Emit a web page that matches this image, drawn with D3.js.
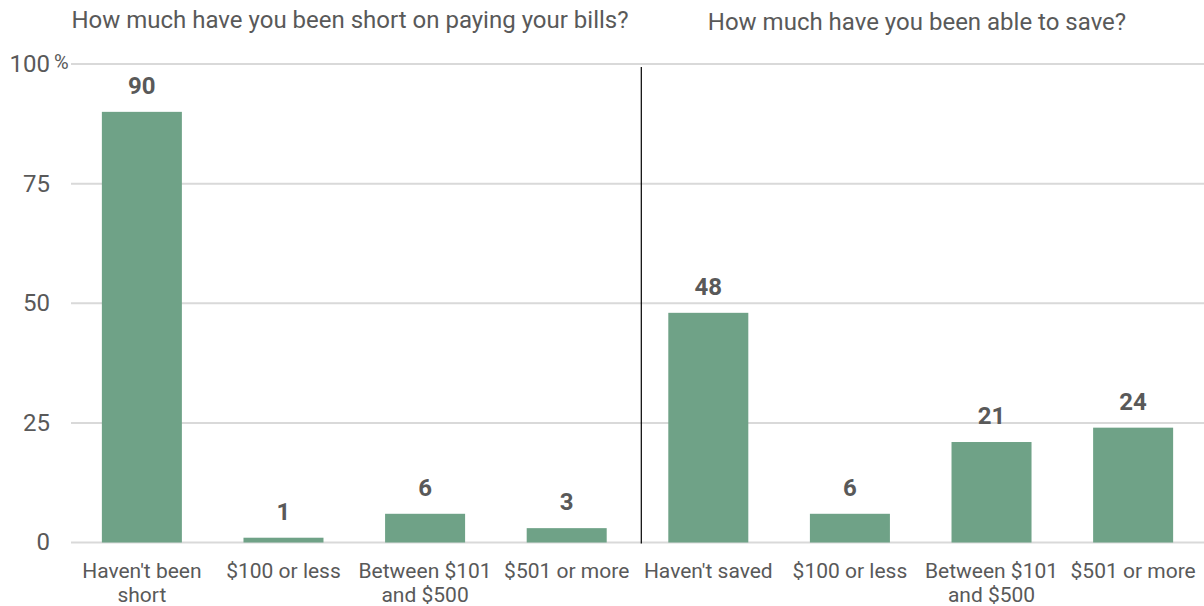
<!DOCTYPE html>
<html>
<head>
<meta charset="utf-8">
<script src="https://cdn.jsdelivr.net/npm/d3@7/dist/d3.min.js"></script>
<style>
  html, body { margin: 0; padding: 0; background: #fff; }
  svg { display: block; font-family: Roboto, "Noto Sans", sans-serif; }
</style>
</head>
<body>
<svg id="chart" width="1204" height="606"></svg>
<script>
// Survey responses, percent of respondents
const categories = [
  "Haven't been short", "$100 or less", "Between $101 and $500", "$501 or more",
  "Haven't saved", "$100 or less ", "Between $101 and $500 ", "$501 or more "
];
const categoryLines = [
  ["Haven't been", "short"], ["$100 or less"], ["Between $101", "and $500"], ["$501 or more"],
  ["Haven't saved"], ["$100 or less"], ["Between $101", "and $500"], ["$501 or more"]
];
const values = [90, 1, 6, 3, 48, 6, 21, 24];
const yTicks = [0, 25, 50, 75, 100];
const groupTitles = ["How much have you been short on paying your bills?", "How much have you been able to save?"];

const svg = d3.select("#chart");
const plotLeft = 71, plotRight = 1204, plotTop = 64, plotBottom = 542.5;

const x = d3.scaleBand().domain(categories).range([plotLeft, plotRight]).paddingInner(0.435).paddingOuter(0.218);
const y = d3.scaleLinear().domain([0, 100]).range([plotBottom, plotTop]);

const textColor = "#595959";

// gridlines
svg.append("g").selectAll("line").data(yTicks).join("line")
  .attr("x1", plotLeft).attr("x2", plotRight)
  .attr("y1", d => y(d)).attr("y2", d => y(d))
  .attr("stroke", "#d9d9d9").attr("stroke-width", 2);

// y tick labels
svg.append("g").selectAll("text").data(yTicks).join("text")
  .attr("x", 50).attr("y", d => y(d))
  .attr("dy", "0.33em")
  .attr("text-anchor", "end")
  .attr("fill", textColor).attr("font-size", 24)
  .text(d => d);
svg.append("text").attr("x", 54).attr("y", y(100) + 5)
  .attr("fill", textColor).attr("font-size", 20).text("%");

// bars
svg.append("g").selectAll("rect").data(values).join("rect")
  .attr("x", (d, i) => x(categories[i]))
  .attr("width", x.bandwidth())
  .attr("y", d => y(d))
  .attr("height", d => y(0) - y(d))
  .attr("fill", "#6fa287");

// value labels
svg.append("g").selectAll("text").data(values).join("text")
  .attr("x", (d, i) => x(categories[i]) + x.bandwidth() / 2)
  .attr("y", d => y(d) - 18)
  .attr("text-anchor", "middle")
  .attr("fill", textColor).attr("font-size", 24).attr("font-weight", "bold")
  .text(d => d);

// category labels
const cat = svg.append("g").selectAll("text").data(categoryLines).join("text")
  .attr("x", (d, i) => x(categories[i]) + x.bandwidth() / 2)
  .attr("y", 577.5)
  .attr("text-anchor", "middle")
  .attr("fill", textColor).attr("font-size", 21);
cat.selectAll("tspan").data(d => d).join("tspan")
  .attr("x", function () { return d3.select(this.parentNode).attr("x"); })
  .attr("dy", (d, i) => i === 0 ? 0 : 24)
  .text(d => d);

// divider between the two questions
const divX = x(categories[4]) - 27;
svg.append("line")
  .attr("x1", divX).attr("x2", divX)
  .attr("y1", 67).attr("y2", plotBottom + 1)
  .attr("stroke", "#000").attr("stroke-width", 1.2);

// group titles
svg.append("text").attr("x", 350).attr("y", 28).attr("text-anchor", "middle")
  .attr("fill", textColor).attr("font-size", 24).text(groupTitles[0]);
svg.append("text").attr("x", 917).attr("y", 30).attr("text-anchor", "middle")
  .attr("fill", textColor).attr("font-size", 24).text(groupTitles[1]);
</script>
</body>
</html>
